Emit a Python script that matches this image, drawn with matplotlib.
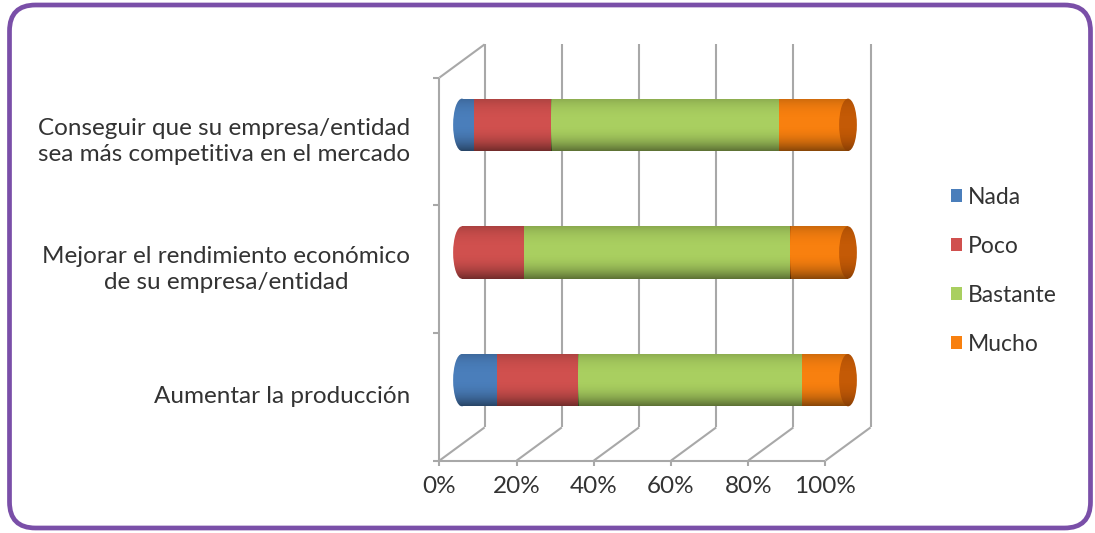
import numpy as np
import matplotlib.pyplot as plt
from matplotlib.patches import Ellipse, FancyBboxPatch, Patch

plt.rcParams['font.family'] = ['Lato', 'DejaVu Sans']

# datos (porcentajes)
categorias = ['Aumentar la producción',
              'Mejorar el rendimiento económico\nde su empresa/entidad',
              'Conseguir que su empresa/entidad\nsea más competitiva en el mercado']
series = ['Nada', 'Poco', 'Bastante', 'Mucho']
nada = [9, 0, 3]
poco = [21, 16, 20]
bastante = [58, 69, 59]
mucho = [12, 15, 18]
ticks = [0, 20, 40, 60, 80, 100]

colores = ['#4A7EBB', '#D0504E', '#A9CF60', '#F8800F']
tapa = '#C45A06'
gris = '#A8A8A8'
txt = '#333333'

fig = plt.figure(figsize=(10.95, 5.33), dpi=100)
fig.patch.set_facecolor('white')

# marco morado redondeado
marco = FancyBboxPatch((0.095, 0.05), 10.81, 5.23,
                       boxstyle='round,pad=0,rounding_size=0.26',
                       transform=fig.dpi_scale_trans, facecolor='none',
                       edgecolor='#7A4FA8', linewidth=3.4, zorder=5)
fig.patches.append(marco)

px = 3.86  # pixeles por punto porcentual
ax = fig.add_axes([(462-3*px)/1095, 89/533, 106*px/1095, 383/533])
ax.set_xlim(-3, 103)
ax.set_ylim(-0.5, 2.5)
ax.axis('off')

dx = 5.85   # profundidad (x)
dy = 0.13   # profundidad (y)
kw = dict(color=gris, lw=1.5, clip_on=False, zorder=1, solid_capstyle='butt')

# pared del fondo
for p in ticks:
    ax.plot([p+dx, p+dx], [-0.5+dy, 2.5+dy], **kw)
    ax.plot([p-dx, p+dx], [-0.5-dy, -0.5+dy], **kw)
    ax.plot([p-dx, p-dx], [-0.5-dy, -0.5-dy-0.04], **kw)
    ax.text(p-dx, -0.83, '%d%%' % p, ha='center', va='center',
            fontsize=17.5, color=txt)
# pared izquierda y suelo
ax.plot([-dx, -dx], [-0.5-dy, 2.5-dy], **kw)
ax.plot([-dx, dx], [2.5-dy, 2.5+dy], **kw)
ax.plot([-dx, 100-dx], [-0.5-dy, -0.5-dy], **kw)
for k in range(4):
    ax.plot([-dx-1.6, -dx], [k-0.5-dy, k-0.5-dy], **kw)

# sombreado del cilindro (arriba -> abajo)
t = np.linspace(-1, 1, 64)
alpha = np.where(t < 0, 0.18*np.abs(t)**3, 0.45*t**2.2)
sombra = np.zeros((64, 1, 4))
sombra[:, 0, 3] = alpha

h = 0.41
ew = 4.6
datos = [nada, poco, bastante, mucho]
for i in range(len(categorias)):
    left = 0
    primero = None
    for s in range(4):
        v = datos[s][i]
        if v <= 0:
            continue
        if primero is None:
            primero = colores[s]
        b = ax.barh(i, v, left=left, height=h, color=colores[s], lw=0, zorder=3)[0]
        im = ax.imshow(sombra, extent=[left, left+v, i-h/2, i+h/2],
                       aspect='auto', zorder=3.5, origin='upper')
        im.set_clip_path(b)
        left += v
    e1 = Ellipse((0, i), ew, h, color=primero, lw=0, zorder=2)
    ax.add_patch(e1)
    im = ax.imshow(sombra, extent=[-ew, 0, i-h/2, i+h/2], aspect='auto',
                   zorder=2.5, origin='upper')
    im.set_clip_path(e1)
    e2 = Ellipse((100, i), ew, h, color=tapa, lw=0, zorder=4)
    ax.add_patch(e2)
    im = ax.imshow(sombra*0.7, extent=[100-ew, 100+ew, i-h/2, i+h/2],
                   aspect='auto', zorder=4.5, origin='upper')
    im.set_clip_path(e2)
    ax.text(-13.5, i-dy, categorias[i], ha='right', va='center',
            multialignment='center', linespacing=1.3, fontsize=17.5, color=txt)

ax.set_xlim(-3, 103)
ax.set_ylim(-0.5, 2.5)

handles = [Patch(facecolor=c, edgecolor='none') for c in colores]
ax.legend(handles, series, loc='center left',
          bbox_to_anchor=(951/1095, 1-271/533), bbox_transform=fig.transFigure,
          frameon=False, fontsize=16.5, labelcolor=txt, handlelength=0.5,
          handleheight=0.5, handletextpad=0.25, labelspacing=1.22,
          borderpad=0, borderaxespad=0)

fig.savefig('out.png', dpi=100, facecolor='white')
